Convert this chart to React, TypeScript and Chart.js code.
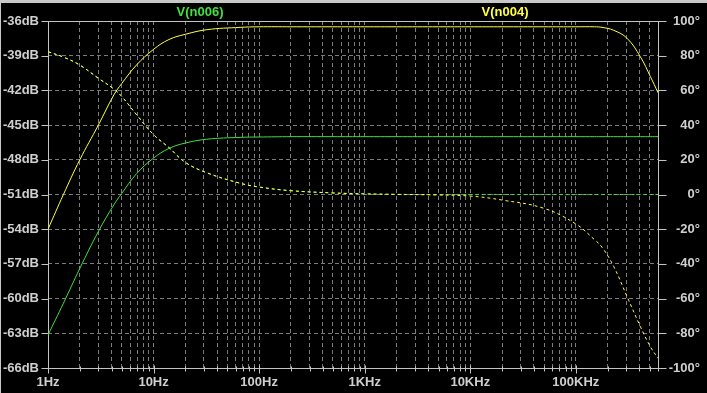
import React, { useEffect, useRef } from 'react';
import { Chart, registerables } from 'chart.js';

Chart.register(...registerables);

// ---- data ----
const freqHz = [1, 1.4, 2, 3, 4.2, 5, 6.9, 10, 14, 20, 32, 66, 100, 200, 500, 1000, 2000, 5000, 10000, 20000, 50000, 100000, 150000, 177000, 228000, 306000, 409000, 508000, 600000];

const n004MagDb = [-54.0, -51.0, -48.0, -45.0, -42.4, -41.4, -39.8, -38.45, -37.6, -37.15, -36.75, -36.55, -36.5, -36.5, -36.5, -36.5, -36.5, -36.5, -36.5, -36.5, -36.5, -36.5, -36.5, -36.55, -36.8, -37.5, -39.1, -40.8, -42.2];
const n004PhaseDeg = [82.3, 79.2, 74.6, 67.0, 60.8, 56.5, 46.0, 34.5, 27.0, 18.5, 12.5, 6.5, 4.3, 2.2, 0.9, 0.4, 0.1, -0.3, -0.9, -3.2, -8.0, -17.0, -26.0, -30.4, -41.4, -58.9, -76.2, -87.7, -94.4];

const n006MagDb = [-63.15, -60.4, -57.4, -54.2, -51.9, -50.9, -49.2, -47.85, -47.02, -46.55, -46.22, -46.06, -46.03, -46.0, -46.0, -46.0, -46.0, -46.0, -46.0, -46.0, -46.0, -46.0, -46.0, -46.0, -46.0, -46.0, -46.0, -46.0, -46.0];
const n006PhaseDeg = [82.3, 79.2, 74.6, 67.0, 60.8, 56.5, 46.0, 34.5, 27.0, 18.5, 12.5, 6.5, 4.3, 2.2, 0.9, 0.3, 0, 0, 0, 0, 0, 0, 0, 0, 0, 0, 0, 0, 0];

const traceNames = ['V(n006)', 'V(n004)'];

const decadeValues = [1, 10, 100, 1000, 10000, 100000];
const decadeLabels = ['1Hz', '10Hz', '100Hz', '1KHz', '10KHz', '100KHz'];
const xMin = 1;
const xMax = 600000;

const magMin = -66;
const magMax = -36;
const magStep = 3;
const phaseMin = -100;
const phaseMax = 100;
const phaseStep = 20;

// ---- styles ----
const GREEN = '#3fe03f';
const YELLOW = '#ffff40';
const GRID = '#7c7c7c';
const FRAME = '#c4c4c4';
const TEXT = '#cfcfcf';
const FONT = "'Liberation Sans', Arial, sans-serif";

const xTickValues: number[] = [];
decadeValues.forEach((d) => {
  for (let m = 1; m <= 9; m++) {
    const v = d * m;
    if (v <= xMax) xTickValues.push(v);
  }
});

const pts = (ys: number[]) => freqHz.map((f, i) => ({ x: f, y: ys[i] }));

const ltspicePlugin = {
  id: 'ltspiceDecor',
  beforeDraw(chart: any) {
    const { ctx, width, height } = chart;
    ctx.save();
    ctx.fillStyle = '#000';
    ctx.fillRect(0, 0, width, height);
    ctx.fillStyle = '#c8c8c8';
    ctx.fillRect(0, 0, width, 3);
    ctx.fillRect(0, 0, 1, height);
    ctx.restore();
  },
  beforeDatasetsDraw(chart: any) {
    const { ctx, chartArea: a, scales } = chart;
    ctx.save();
    ctx.strokeStyle = FRAME;
    ctx.lineWidth = 1;
    const L = Math.round(a.left) + 0.5;
    const R = Math.round(a.right) + 0.5;
    const T = Math.round(a.top) + 0.5;
    const B = Math.round(a.bottom) + 0.5;
    ctx.strokeRect(L, T, R - L, B - T);
    const seg = (x1: number, y1: number, x2: number, y2: number) => {
      ctx.beginPath();
      ctx.moveTo(x1, y1);
      ctx.lineTo(x2, y2);
      ctx.stroke();
    };
    scales.y.ticks.forEach((t: any) => {
      const py = Math.round(scales.y.getPixelForValue(t.value)) + 0.5;
      seg(L - 7, py, L, py);
    });
    scales.y1.ticks.forEach((t: any) => {
      const py = Math.round(scales.y1.getPixelForValue(t.value)) + 0.5;
      seg(R, py, R + 8, py);
    });
    scales.x.ticks.forEach((t: any) => {
      const px = Math.round(scales.x.getPixelForValue(t.value)) + 0.5;
      if (decadeValues.includes(t.value)) seg(px, B - 3, px, B + 5);
      else seg(px, B - 2, px, B + 3);
    });
    ctx.restore();
  },
  afterDraw(chart: any) {
    const { ctx } = chart;
    ctx.save();
    ctx.font = `bold 13px ${FONT}`;
    ctx.textAlign = 'center';
    ctx.textBaseline = 'middle';
    ctx.fillStyle = GREEN;
    ctx.fillText(traceNames[0], 200, 12);
    ctx.fillStyle = YELLOW;
    ctx.fillText(traceNames[1], 505, 12);
    ctx.restore();
  },
};

export default function App() {
  const ref = useRef<HTMLCanvasElement | null>(null);

  useEffect(() => {
    if (!ref.current) return;
    const tickFont = { family: FONT, size: 13, weight: 'bold' as const };
    const common = { borderWidth: 1, pointRadius: 0, tension: 0.4 };
    const chart = new Chart(ref.current, {
      type: 'line',
      data: {
        datasets: [
          {
            ...common,
            label: traceNames[1] + ' phase',
            data: pts(n004PhaseDeg),
            yAxisID: 'y1',
            borderColor: YELLOW,
            borderDash: [3, 3],
            order: 0,
          },
          {
            ...common,
            label: traceNames[1],
            data: pts(n004MagDb),
            yAxisID: 'y',
            borderColor: YELLOW,
            order: 1,
          },
          {
            ...common,
            label: traceNames[0],
            data: pts(n006MagDb),
            yAxisID: 'y',
            borderColor: GREEN,
            order: 2,
          },
          {
            ...common,
            label: traceNames[0] + ' phase',
            data: pts(n006PhaseDeg),
            yAxisID: 'y1',
            borderColor: GREEN,
            borderDash: [3, 3],
            order: 3,
          },
        ],
      },
      options: {
        responsive: false,
        animation: false,
        events: [],
        layout: { padding: { top: 21, right: 7, left: 0, bottom: 0 } },
        plugins: { legend: { display: false }, tooltip: { enabled: false }, title: { display: false } },
        scales: {
          x: {
            type: 'logarithmic',
            min: xMin,
            max: xMax,
            afterBuildTicks: (scale: any) => {
              scale.ticks = xTickValues.map((v) => ({ value: v }));
            },
            afterFit: (scale: any) => {
              scale.height = 25;
              scale.paddingLeft = 0;
              scale.paddingRight = 0;
            },
            grid: { color: GRID, lineWidth: 1, drawTicks: false },
            border: { display: false, dash: [4, 3] },
            ticks: {
              autoSkip: false,
              maxRotation: 0,
              minRotation: 0,
              padding: 7,
              color: TEXT,
              font: tickFont,
              callback: (value: any) => {
                const i = decadeValues.indexOf(Number(value));
                return i >= 0 ? decadeLabels[i] : '';
              },
            },
          },
          y: {
            type: 'linear',
            position: 'left',
            min: magMin,
            max: magMax,
            afterFit: (scale: any) => {
              scale.width = 48;
              scale.paddingTop = 0;
              scale.paddingBottom = 0;
            },
            grid: { color: GRID, lineWidth: 1, drawTicks: false },
            border: { display: false, dash: [4, 3] },
            ticks: {
              stepSize: magStep,
              padding: 9,
              color: TEXT,
              font: tickFont,
              callback: (v: any) => `${v}dB`,
            },
          },
          y1: {
            type: 'linear',
            position: 'right',
            min: phaseMin,
            max: phaseMax,
            afterFit: (scale: any) => {
              scale.width = 42;
              scale.paddingTop = 0;
              scale.paddingBottom = 0;
            },
            grid: { display: false, drawOnChartArea: false, drawTicks: false },
            border: { display: false },
            ticks: {
              stepSize: phaseStep,
              padding: 10,
              crossAlign: 'far',
              color: TEXT,
              font: tickFont,
              callback: (v: any) => `${v}°`,
            },
          },
        },
      },
      plugins: [ltspicePlugin],
    });
    return () => chart.destroy();
  }, []);

  return (
    <div style={{ position: 'fixed', left: 0, top: 0, width: 707, height: 393, background: '#000' }}>
      <canvas ref={ref} width={707} height={393} style={{ display: 'block', width: 707, height: 393 }} />
    </div>
  );
}
